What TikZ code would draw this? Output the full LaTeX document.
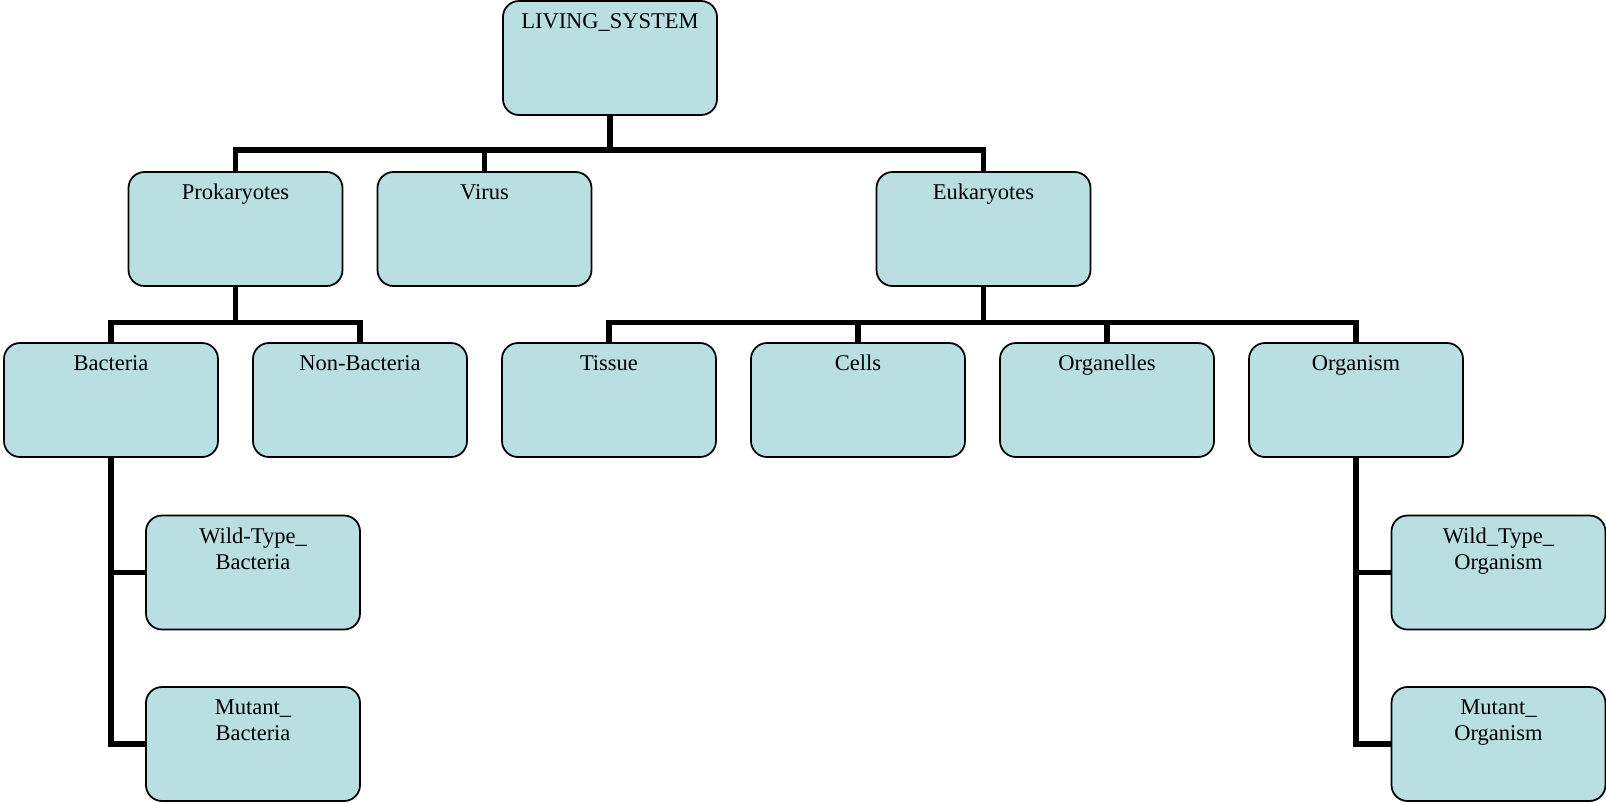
\documentclass[tikz,border=0pt]{standalone}
\usepackage{fontspec}
\setmainfont{Liberation Serif}
\definecolor{bleupale}{RGB}{185,223,227}
\begin{document}
\begin{tikzpicture}
\tikzset{boite/.style={draw, line width=1pt, fill=bleupale, rounded corners=0.32cm, inner sep=0pt, text width=4.28cm, align=center, text height=0.55cm, text depth=1.73cm, font=\fontsize{12.8}{14.8}\selectfont},
lien/.style={line width=3.1pt}}
\useasboundingbox (0,0) rectangle (32.12,-16.04);
\node[boite] (Living) at (12.20,-1.16) {LIVING\_SYSTEM};
\node[boite] (Proka) at (4.71,-4.58) {Prokaryotes};
\node[boite] (Virus) at (9.69,-4.58) {Virus};
\node[boite] (Euka) at (19.67,-4.58) {Eukaryotes};
\node[boite] (Bact) at (2.22,-8.00) {Bacteria};
\node[boite] (NonBact) at (7.20,-8.00) {Non-Bacteria};
\node[boite] (Tissue) at (12.18,-8.00) {Tissue};
\node[boite] (Cells) at (17.16,-8.00) {Cells};
\node[boite] (Organelles) at (22.14,-8.00) {Organelles};
\node[boite] (Organism) at (27.12,-8.00) {Organism};
\node[boite] (WTBact) at (5.06,-11.45) {Wild-Type\_\\Bacteria};
\node[boite] (MutBact) at (5.06,-14.88) {Mutant\_\\Bacteria};
\node[boite] (WTOrg) at (29.97,-11.45) {Wild\_Type\_\\Organism};
\node[boite] (MutOrg) at (29.97,-14.88) {Mutant\_\\Organism};
\draw[lien] (Living.south) -- ++(0,-0.68) coordinate (j1);
\draw[lien] (Proka.north) |- (j1) -| (Euka.north);
\draw[lien] (Virus.north) -- (Virus.north |- j1);
\draw[lien] (Proka.south) -- ++(0,-0.71) coordinate (j2);
\draw[lien] (Bact.north) |- (j2) -| (NonBact.north);
\draw[lien] (Euka.south) -- ++(0,-0.71) coordinate (j3);
\draw[lien] (Tissue.north) |- (j3) -| (Organism.north);
\draw[lien] (Cells.north) -- (Cells.north |- j3);
\draw[lien] (Organelles.north) -- (Organelles.north |- j3);
\draw[lien] (Bact.south) |- (MutBact.west);
\draw[lien] (Bact.south |- WTBact.west) -- (WTBact.west);
\draw[lien] (Organism.south) |- (MutOrg.west);
\draw[lien] (Organism.south |- WTOrg.west) -- (WTOrg.west);
\end{tikzpicture}
\end{document}
